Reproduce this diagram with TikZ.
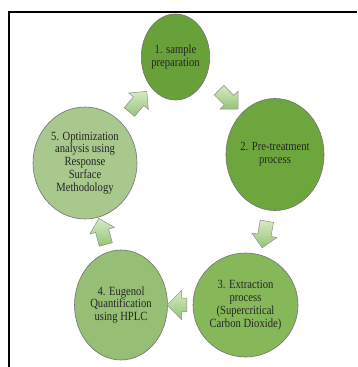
\documentclass[tikz,border=0pt]{standalone}
\usepackage{fontspec}
\setmainfont{Liberation Serif}[FakeStretch=0.85]
\usetikzlibrary{calc, positioning}
\usetikzlibrary{shapes.geometric, shapes.arrows}

\definecolor{stageOne}{RGB}{104,160,58}
\definecolor{stageTwo}{RGB}{110,166,62}
\definecolor{stageThree}{RGB}{134,184,90}
\definecolor{stageFour}{RGB}{150,190,116}
\definecolor{stageFive}{RGB}{168,200,142}
\definecolor{flowHi}{RGB}{214,234,196}
\definecolor{flowLo}{RGB}{150,196,118}

\begin{document}
\begin{tikzpicture}[x=1pt, y=1pt,
  stage/.style={ellipse, draw=black!55, line width=0.6pt, inner sep=0pt,
    align=center, text=black!85, font=\fontsize{12.5}{12.8}\selectfont},
  flow/.style={single arrow, draw=black!45, line width=0.5pt,
    top color=flowHi, bottom color=flowLo,
    inner xsep=0pt, inner ysep=6.5pt, single arrow head extend=6pt,
    minimum height=27pt}]
\useasboundingbox (0,0) rectangle (357,367);

\coordinate (FrameBot) at (9,0);
\coordinate (FrameCorner) at (9,355);
\coordinate (FrameEnd) at (357,355);
\draw[line width=1.6pt] (FrameBot) -- (FrameCorner) -- (FrameEnd);

\node[stage, fill=stageOne, minimum width=65pt, minimum height=86pt] (s1) at (175.5,310)
  {1. sample\\preparation};
\node[stage, fill=stageTwo, minimum width=84pt, minimum height=112pt] (s2) at (275,212.5)
  {2. Pre-treatment\\process};
\node[stage, fill=stageThree, minimum width=105pt, minimum height=104pt] (s3) at (245.5,62)
  {3. Extraction\\process\\(Supercritical\\Carbon Dioxide)};
\node[stage, fill=stageFour, minimum width=93pt, minimum height=110pt] (s4) at (121,62)
  {4. Eugenol\\Quantification\\using HPLC};
\node[stage, fill=stageFive, minimum width=104pt, minimum height=112pt] (s5) at (85,204)
  {5. Optimization\\analysis using\\Response\\Surface\\Methodology};

% block arrows between the stages
\path (s1.-40) -- node[flow, pos=0.55, rotate=-45] (f12) {} (s2.125);
\path (s2.-80) -- node[flow, rotate=-100] (f23) {} (s3.90);
\path (s3.west) -- node[flow, rotate=180, minimum height=20pt, single arrow head extend=8pt] (f34) {} (s4.east);
\path (s4.105) -- node[flow, rotate=105] (f45) {} (s5.-75);
\path (s5.45) -- node[flow, rotate=50] (f51) {} (s1.225);
\end{tikzpicture}
\end{document}
